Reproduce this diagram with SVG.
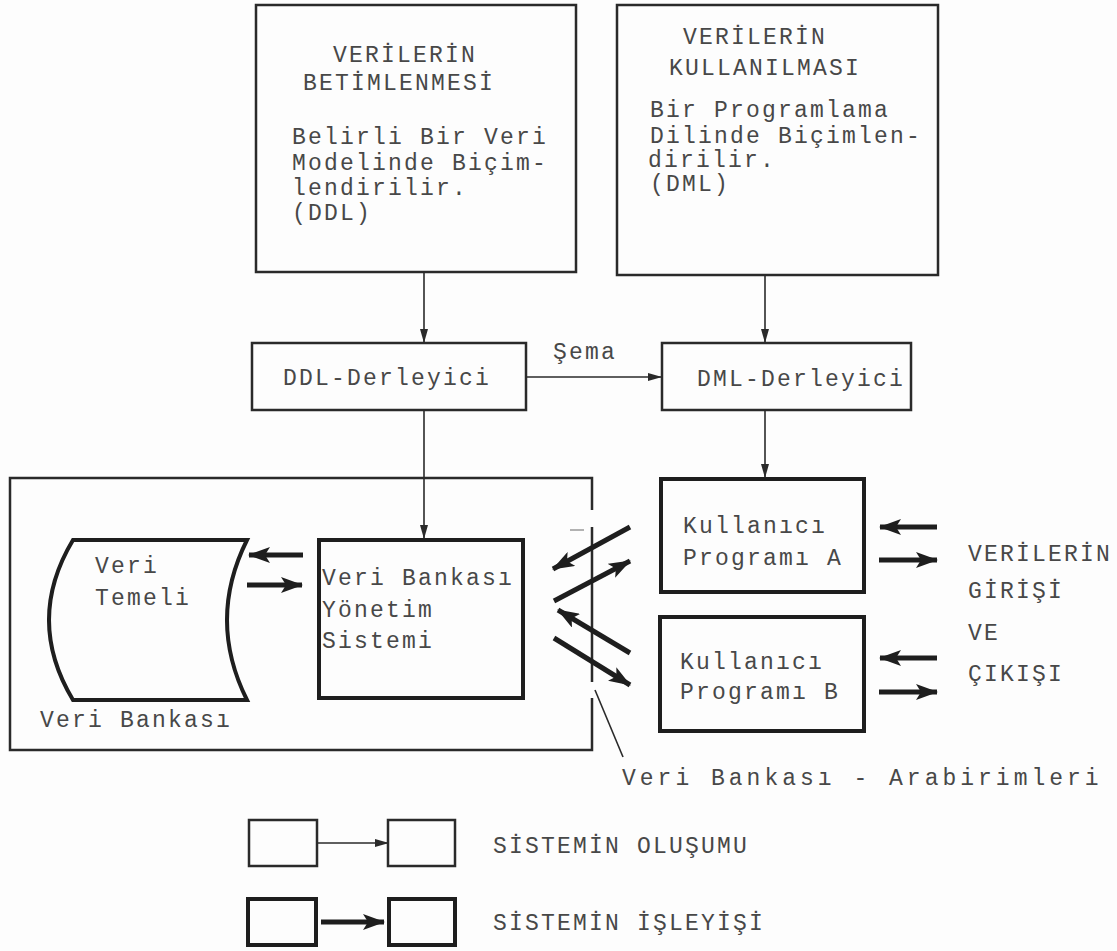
<svg xmlns="http://www.w3.org/2000/svg" width="1117" height="951" viewBox="0 0 1117 951">
<style>
text{font-family:"Liberation Mono","DejaVu Sans Mono",monospace;font-size:23px;letter-spacing:2.2px;fill:#484848}
.b{fill:none;stroke:#2a2a2a;stroke-width:2.5}
.bt{fill:none;stroke:#1e1e1e;stroke-width:4}
.thin{fill:none;stroke:#2a2a2a;stroke-width:1.6}
.thick{fill:none;stroke:#1e1e1e;stroke-width:5}
</style>
<defs>
<marker id="ah" markerUnits="userSpaceOnUse" markerWidth="14" markerHeight="10" refX="13" refY="5" orient="auto"><path d="M0,1 L14,5 L0,9 Z" fill="#2a2a2a"/></marker>
<marker id="AH" markerUnits="userSpaceOnUse" markerWidth="22" markerHeight="16" refX="21" refY="8" orient="auto"><path d="M0,0 L22,8 L0,16 L5,8 Z" fill="#1e1e1e"/></marker>
</defs>
<rect width="1117" height="951" fill="#fdfdfd"/>

<g id="desc">
<rect class="b" x="256" y="5" width="320" height="267"/>
<text x="333" y="62">VERİLERİN</text>
<text x="303" y="90">BETİMLENMESİ</text>
<text x="292" y="144">Belirli Bir Veri</text>
<text x="292" y="170">Modelinde Biçim-</text>
<text x="292" y="195">lendirilir.</text>
<text x="292" y="220">(DDL)</text>
</g>
<g id="use">
<rect class="b" x="617" y="5" width="321" height="270"/>
<text x="683" y="44">VERİLERİN</text>
<text x="669" y="75">KULLANILMASI</text>
<text x="650" y="117">Bir Programlama</text>
<text x="650" y="143">Dilinde Biçimlen-</text>
<text x="648" y="167">dirilir.</text>
<text x="650" y="191">(DML)</text>
</g>
<g id="ddl">
<rect class="b" x="252" y="343" width="274" height="67"/>
<text x="283" y="385">DDL-Derleyici</text>
</g>
<g id="dml">
<rect class="b" x="662" y="343" width="249" height="67"/>
<text x="697" y="386">DML-Derleyici</text>
</g>
<g id="veribankasi">
<path class="b" d="M592,510 V478 H10 V750 H592 V698 M592,527 V682"/>
<line x1="570" y1="530" x2="584" y2="530" stroke="#999" stroke-width="1.5"/>
<text x="40" y="727">Veri Bankası</text>
</g>
<g id="veritemeli">
<path class="bt" d="M73,540 H247 Q207,620 247,700 H73 Q25,620 73,540 Z"/>
<text x="95" y="573">Veri</text>
<text x="95" y="605">Temeli</text>
</g>
<g id="vbys">
<rect class="bt" x="319" y="540" width="204" height="158"/>
<text x="322" y="585">Veri Bankası</text>
<text x="322" y="617">Yönetim</text>
<text x="322" y="648">Sistemi</text>
</g>
<g id="progA">
<rect class="bt" x="661" y="479" width="203" height="113"/>
<text x="683" y="533">Kullanıcı</text>
<text x="683" y="565">Programı A</text>
</g>
<g id="progB">
<rect class="bt" x="660" y="617" width="204" height="114"/>
<text x="680" y="669">Kullanıcı</text>
<text x="680" y="699">Programı B</text>
</g>
<g id="io">
<text x="968" y="561">VERİLERİN</text>
<text x="968" y="598">GİRİŞİ</text>
<text x="968" y="640">VE</text>
<text x="968" y="681">ÇIKIŞI</text>
</g>
<g id="arabirim">
<text x="622" y="785" style="letter-spacing:4px">Veri Bankası - Arabirimleri</text>
</g>
<g id="legend">
<rect class="b" x="249" y="820" width="68" height="46"/>
<rect class="b" x="388" y="820" width="67" height="46"/>
<rect class="bt" x="248" y="899" width="68" height="46"/>
<rect class="bt" x="389" y="899" width="66" height="46"/>
<text x="493" y="853">SİSTEMİN OLUŞUMU</text>
<text x="493" y="930">SİSTEMİN İŞLEYİŞİ</text>
</g>
<g id="connectors">
<line class="thin" x1="424" y1="272" x2="424" y2="342" marker-end="url(#ah)"/>
<line class="thin" x1="765" y1="275" x2="765" y2="342" marker-end="url(#ah)"/>
<line class="thin" x1="526" y1="377" x2="661" y2="377" marker-end="url(#ah)"/>
<text x="553" y="359">Şema</text>
<line class="thin" x1="424" y1="410" x2="424" y2="538" marker-end="url(#ah)"/>
<line class="thin" x1="765" y1="410" x2="765" y2="477" marker-end="url(#ah)"/>
<line class="thick" x1="303" y1="555" x2="249" y2="555" marker-end="url(#AH)"/>
<line class="thick" x1="247" y1="585" x2="302" y2="585" marker-end="url(#AH)"/>
<line class="thick" x1="630" y1="527" x2="553" y2="569" marker-end="url(#AH)"/>
<line class="thick" x1="554" y1="601" x2="630" y2="561" marker-end="url(#AH)"/>
<line class="thick" x1="630" y1="653" x2="558" y2="610" marker-end="url(#AH)"/>
<line class="thick" x1="554" y1="638" x2="630" y2="685" marker-end="url(#AH)"/>
<line class="thin" x1="595" y1="690" x2="623" y2="757"/>
<line class="thick" x1="937" y1="527" x2="880" y2="527" marker-end="url(#AH)"/>
<line class="thick" x1="879" y1="560" x2="937" y2="560" marker-end="url(#AH)"/>
<line class="thick" x1="937" y1="658" x2="880" y2="658" marker-end="url(#AH)"/>
<line class="thick" x1="879" y1="692" x2="937" y2="692" marker-end="url(#AH)"/>
<line class="thin" x1="317" y1="843" x2="388" y2="843" marker-end="url(#ah)"/>
<line class="thick" x1="321" y1="922" x2="384" y2="922" marker-end="url(#AH)"/>
</g>
</svg>
